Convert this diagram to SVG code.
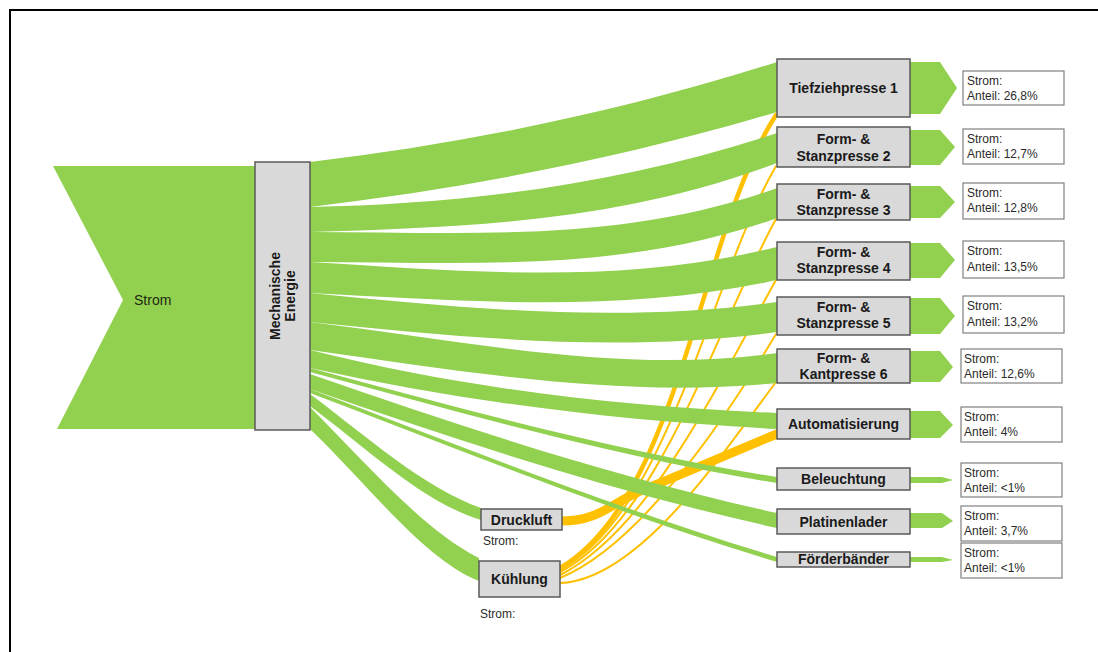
<svg xmlns="http://www.w3.org/2000/svg" width="1098" height="652" viewBox="0 0 1098 652">
  <style>
    .flow { fill: #92d050; }
    .out { fill: #92d050; }
    .heat { fill: none; stroke: #ffc000; stroke-linecap: round; }
    .box { fill: #d9d9d9; stroke: #595959; stroke-width: 1.5; }
    .info { fill: #ffffff; stroke: #808080; stroke-width: 1.2; }
    .lbl { font-family: "Liberation Sans", Arial, sans-serif; font-weight: bold; font-size: 14px; fill: #1a1a1a; text-anchor: middle; }
    .txt { font-family: "Liberation Sans", Arial, sans-serif; font-size: 12px; fill: #2b2b2b; }
  </style>

  <rect width="1098" height="652" fill="#ffffff"/>
  <!-- frame -->
  <path d="M10,652 L10,10 L1098,10" fill="none" stroke="#000" stroke-width="2"/>

  <!-- source arrow -->
  <g id="strom">
    <polygon class="flow" points="53,166 256,166 256,429 57,429 123,300"/>
    <text class="txt" x="134" y="305" style="font-size:14px;fill:#1f2a10">Strom</text>
  </g>

  <g id="connectors">
    <!-- heat / compressed-air lines (under the power flows) -->
    <g id="waste-heat">
      <path class="heat" stroke-width="4.5" d="M560,568 C680,498 700,232 776,115"/>
      <path class="heat" stroke-width="2" d="M560,570 C670,510 710,280 776,166"/>
      <path class="heat" stroke-width="2" d="M560,572 C660,520 715,330 776,219"/>
      <path class="heat" stroke-width="2" d="M560,575 C650,530 720,380 776,280"/>
      <path class="heat" stroke-width="2" d="M560,578 C640,545 725,420 776,334"/>
      <path class="heat" stroke-width="2" d="M560,583 C640,580 725,450 776,382"/>
      <path class="heat" stroke-width="9" stroke-linecap="butt" d="M562,521 C600,521 610,503 645,489 C690,471 740,449 777,434"/>
    </g>

    <!-- power flows from Mechanische Energie -->
    <g id="power-flows">
      <path class="flow" d="M310,162 C465.7,143.3 621.3,111.8 777,62 L777,112 C621.3,158.7 465.7,188.3 310,207 Z"/>
      <path class="flow" d="M310,207 C465.7,203.9 621.3,184.4 777,133 L777,163 C621.3,222.2 465.7,227.3 310,232 Z"/>
      <path class="flow" d="M310,232 C465.7,232 621.3,244 777,188 L777,218 C621.3,274 465.7,262 310,262 Z"/>
      <path class="flow" d="M310,262 C465.7,271.3 621.3,285.9 777,247 L777,280 C621.3,314.2 465.7,300.8 310,293 Z"/>
      <path class="flow" d="M310,293 C465.7,308.6 621.3,323.8 777,302 L777,332 C621.3,353.8 465.7,337.6 310,322 Z"/>
      <path class="flow" d="M310,322 C465.7,340.7 621.3,374.8 777,353 L777,383 C621.3,398.6 465.7,371.8 310,350 Z"/>
      <path class="flow" d="M310,350 C465.7,388.9 621.3,406.8 777,413 L777,429 C621.3,421.2 465.7,402.2 310,368 Z"/>
      <path class="flow" d="M310,368 C465.7,410 621.3,452.1 777,477 L777,483 C621.3,458.1 465.7,414 310,372 Z"/>
      <path class="flow" d="M310,374 C465.7,428.5 621.3,478.8 777,513 L777,528 C621.3,493.8 465.7,443.5 310,389 Z"/>
      <path class="flow" d="M310,389 C465.7,448.2 621.3,510.3 777,557 L777,562 C621.3,515.3 465.7,452.2 310,393 Z"/>
      <path class="flow" d="M310,394 C367,436.75 424,488 481,508 L481,520 C424,502.9 367,448.75 310,406 Z"/>
      <path class="flow" d="M310,407 C366.3,463.3 422.7,529.8 479,558 L479,581 C422.7,558.5 366.3,482.5 310,429 Z"/>
    </g>

    <!-- outgoing arrows -->
    <g id="outputs">
      <polygon class="out" points="910,62 940,62 957,88 940,114 910,114"/>
      <polygon class="out" points="910,130 940,130 955,147 940,165 910,165"/>
      <polygon class="out" points="910,186 940,186 955,202 940,218 910,218"/>
      <polygon class="out" points="910,243 940,243 955,260 940,278 910,278"/>
      <polygon class="out" points="910,298 940,298 955,316 940,334 910,334"/>
      <polygon class="out" points="910,351 940,351 953,367 940,382 910,382"/>
      <polygon class="out" points="910,411 940,411 953,425 940,438 910,438"/>
      <polygon class="out" points="910,477 942,477 953,480 942,483 910,483"/>
      <polygon class="out" points="910,513 942,513 953,521 942,528 910,528"/>
      <polygon class="out" points="910,557 942,557 953,560 942,562 910,562"/>
    </g>
  </g>

  <g id="mechanische-energie">
    <rect class="box" x="255" y="162" width="55" height="268"/>
    <text class="lbl" transform="translate(282,296) rotate(-90)"><tspan x="0" y="-2">Mechanische</tspan><tspan x="0" y="13">Energie</tspan></text>
  </g>

  <g id="tiefziehpresse-1">
    <rect class="box" x="777" y="59" width="133" height="58"/>
    <text class="lbl" x="843.5" y="93">Tiefziehpresse 1</text>
  </g>
  <g id="stanzpresse-2">
    <rect class="box" x="777" y="127" width="133" height="40"/>
    <text class="lbl" x="843.5" y="144">Form- &amp;</text>
    <text class="lbl" x="843.5" y="161">Stanzpresse 2</text>
  </g>
  <g id="stanzpresse-3">
    <rect class="box" x="777" y="184" width="133" height="36"/>
    <text class="lbl" x="843.5" y="199">Form- &amp;</text>
    <text class="lbl" x="843.5" y="215">Stanzpresse 3</text>
  </g>
  <g id="stanzpresse-4">
    <rect class="box" x="777" y="242" width="133" height="38"/>
    <text class="lbl" x="843.5" y="257">Form- &amp;</text>
    <text class="lbl" x="843.5" y="273">Stanzpresse 4</text>
  </g>
  <g id="stanzpresse-5">
    <rect class="box" x="777" y="297" width="133" height="38"/>
    <text class="lbl" x="843.5" y="312">Form- &amp;</text>
    <text class="lbl" x="843.5" y="328">Stanzpresse 5</text>
  </g>
  <g id="kantpresse-6">
    <rect class="box" x="777" y="349" width="133" height="34"/>
    <text class="lbl" x="843.5" y="363">Form- &amp;</text>
    <text class="lbl" x="843.5" y="379">Kantpresse 6</text>
  </g>
  <g id="automatisierung">
    <rect class="box" x="777" y="409" width="133" height="30"/>
    <text class="lbl" x="843.5" y="429">Automatisierung</text>
  </g>
  <g id="beleuchtung">
    <rect class="box" x="777" y="468" width="133" height="22"/>
    <text class="lbl" x="843.5" y="484">Beleuchtung</text>
  </g>
  <g id="platinenlader">
    <rect class="box" x="777" y="509" width="133" height="25"/>
    <text class="lbl" x="843.5" y="527">Platinenlader</text>
  </g>
  <g id="foerderbaender">
    <rect class="box" x="777" y="552" width="133" height="15"/>
    <text class="lbl" x="843.5" y="564">Förderbänder</text>
  </g>

  <g id="druckluft">
    <rect class="box" x="481" y="509" width="81" height="21"/>
    <text class="lbl" x="521.5" y="525">Druckluft</text>
    <text class="txt" x="483" y="545">Strom:</text>
  </g>
  <g id="kuehlung">
    <rect class="box" x="479" y="561" width="81" height="36"/>
    <text class="lbl" x="519.5" y="584">Kühlung</text>
    <text class="txt" x="480" y="618">Strom:</text>
  </g>

  <!-- share labels -->
  <g id="anteile">
    <rect class="info" x="963" y="71" width="101" height="34"/>
    <text class="txt" x="967" y="85">Strom:</text>
    <text class="txt" x="967" y="100">Anteil: 26,8%</text>

    <rect class="info" x="963" y="129" width="101" height="35"/>
    <text class="txt" x="967" y="143">Strom:</text>
    <text class="txt" x="967" y="158">Anteil: 12,7%</text>

    <rect class="info" x="963" y="183" width="101" height="36"/>
    <text class="txt" x="967" y="197">Strom:</text>
    <text class="txt" x="967" y="212">Anteil: 12,8%</text>

    <rect class="info" x="963" y="241" width="101" height="37"/>
    <text class="txt" x="967" y="255">Strom:</text>
    <text class="txt" x="967" y="271">Anteil: 13,5%</text>

    <rect class="info" x="963" y="296" width="101" height="37"/>
    <text class="txt" x="967" y="310">Strom:</text>
    <text class="txt" x="967" y="326">Anteil: 13,2%</text>

    <rect class="info" x="961" y="349" width="101" height="34"/>
    <text class="txt" x="964" y="363">Strom:</text>
    <text class="txt" x="964" y="378">Anteil: 12,6%</text>

    <rect class="info" x="961" y="407" width="101" height="35"/>
    <text class="txt" x="964" y="421">Strom:</text>
    <text class="txt" x="964" y="436">Anteil: 4%</text>

    <rect class="info" x="961" y="463" width="101" height="34"/>
    <text class="txt" x="964" y="477">Strom:</text>
    <text class="txt" x="964" y="492">Anteil: &lt;1%</text>

    <rect class="info" x="961" y="506" width="101" height="35"/>
    <text class="txt" x="964" y="520">Strom:</text>
    <text class="txt" x="964" y="535">Anteil: 3,7%</text>

    <rect class="info" x="961" y="543" width="101" height="35"/>
    <text class="txt" x="964" y="557">Strom:</text>
    <text class="txt" x="964" y="572">Anteil: &lt;1%</text>
  </g>
</svg>
